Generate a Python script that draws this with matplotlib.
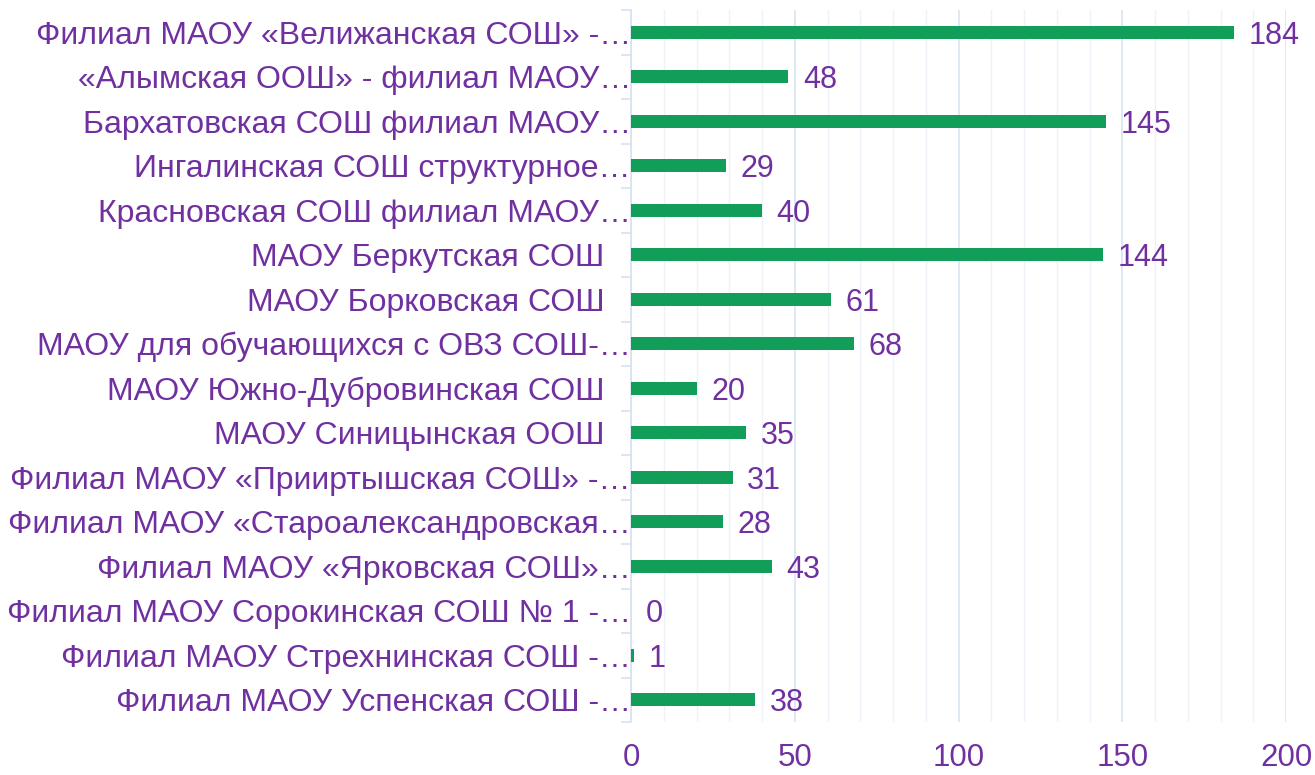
import matplotlib
matplotlib.use('Agg')
import matplotlib.pyplot as plt
import numpy as np

# ── data ───────────────────────────────────────────────────────────────────────
schools = [
    'Филиал МАОУ «Велижанская СОШ» -…',
    '«Алымская ООШ» - филиал МАОУ…',
    'Бархатовская СОШ филиал МАОУ…',
    'Ингалинская СОШ структурное…',
    'Красновская СОШ филиал МАОУ…',
    'МАОУ Беркутская СОШ   ',
    'МАОУ Борковская СОШ   ',
    'МАОУ для обучающихся с ОВЗ СОШ-…',
    'МАОУ Южно-Дубровинская СОШ   ',
    'МАОУ Синицынская ООШ   ',
    'Филиал МАОУ «Прииртышская СОШ» -…',
    'Филиал МАОУ «Староалександровская…',
    'Филиал МАОУ «Ярковская СОШ»…',
    'Филиал МАОУ Сорокинская СОШ № 1 -…',
    'Филиал МАОУ Стрехнинская СОШ -…',
    'Филиал МАОУ Успенская СОШ -…',
]
counts = [184, 48, 145, 29, 40, 144, 61, 68, 20, 35, 31, 28, 43, 0, 1, 38]
x_ticks = [0, 50, 100, 150, 200]

# ── style ──────────────────────────────────────────────────────────────────────
PURPLE = '#7030A0'
GREEN = '#129D58'
plt.rcParams['font.family'] = ['Liberation Sans', 'DejaVu Sans']

fig = plt.figure(figsize=(13.15, 7.75), dpi=100)
ax = fig.add_axes([631 / 1315, 53 / 775, 655 / 1315, 712 / 775])

y = np.arange(len(schools))
ax.barh(y, counts, height=0.29, color=GREEN, zorder=3)

for yi, v in zip(y, counts):
    ax.text(v + 4.5, yi + 0.08, str(v), va='center', ha='left',
            fontsize=22, color=PURPLE)

ax.set_ylim(len(schools) - 0.5, -0.5)
ax.set_xlim(0, 200)

ax.set_yticks(y)
ax.set_yticklabels(schools, fontsize=23, color=PURPLE)
ax.tick_params(axis='y', length=0, pad=0)
ax.set_yticks(np.arange(-0.5, len(schools), 1), minor=True)
ax.tick_params(axis='y', which='minor', length=7, color='#D6E2F3', width=1.2)

ax.set_xticks(x_ticks)
ax.set_xticklabels([str(t) for t in x_ticks], fontsize=22.5, color=PURPLE)
ax.set_xticks(np.arange(0, 201, 10), minor=True)
ax.tick_params(axis='x', which='both', length=0, pad=15)

ax.grid(axis='x', which='major', color='#DCE6F5', lw=1.3, zorder=0)
ax.grid(axis='x', which='minor', color='#EEF2F9', lw=1.0, zorder=0)

for side in ['top', 'right', 'bottom']:
    ax.spines[side].set_visible(False)
ax.spines['left'].set_color('#D6E2F3')
ax.spines['left'].set_linewidth(1.2)

fig.savefig('out.png', dpi=100)
